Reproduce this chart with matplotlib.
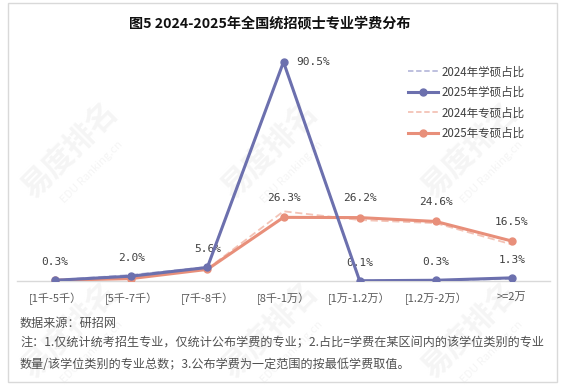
import matplotlib
matplotlib.use("Agg")
import matplotlib.pyplot as plt
from matplotlib.patches import Rectangle
from matplotlib.lines import Line2D

plt.rcParams['font.family'] = ['Noto Sans CJK SC', 'DejaVu Sans']

# -----------------------------
# data
# -----------------------------
categories = ["[1千-5千）", "[5千-7千）", "[7千-8千）", "[8千-1万）",
              "[1万-1.2万）", "[1.2万-2万）", ">=2万"]
xs_2024 = [0.4, 2.5, 5.8, 90.3, 0.1, 0.2, 0.9]      # 2024 学硕
xs_2025 = [0.3, 2.0, 5.6, 90.5, 0.1, 0.3, 1.3]      # 2025 学硕
zs_2024 = [0.4, 1.6, 5.0, 28.8, 25.2, 23.9, 15.1]   # 2024 专硕
zs_2025 = [0.3, 1.0, 4.8, 26.3, 26.2, 24.6, 16.5]   # 2025 专硕
xs_labeled = [0, 1, 2, 3, 4, 5, 6]
zs_labeled = [3, 4, 5, 6]

purple = "#6c70ae"
purple_light = "#b9bbdc"
salmon = "#e88f7a"
salmon_light = "#f3c3b6"
txt = "#404040"

W, H = 567, 389
fig = plt.figure(figsize=(W / 100, H / 100), dpi=100)

# outer frame
fig.patches.append(Rectangle((8 / W, 1 - 382 / H), 549 / W, 379 / H,
                             transform=fig.transFigure, fill=False,
                             edgecolor="#d9d9d9", linewidth=1.0))

# faint watermarks
for wx, wy in [(70, 330), (270, 330), (470, 330), (70, 150), (270, 150), (470, 150)]:
    fig.text(wx / W, 1 - wy / H, "易度排名", fontsize=22, fontweight="bold",
             color="#f5f5f5", rotation=45, ha="center", va="center", zorder=0)
    fig.text((wx + 22) / W, 1 - (wy + 22) / H, "EDU Ranking.cn", fontsize=8,
             color="#f5f5f5", rotation=45, ha="center", va="center", zorder=0)

fig.text(270 / W, 1 - 24 / H, "图5 2024-2025年全国统招硕士专业学费分布",
         fontsize=10.2, fontweight="bold", color="#111111", ha="center", va="center")

ax = fig.add_axes([17 / W, 1 - 281 / H, 533 / W, 242 / H])
ax.set_zorder(2)
ax.patch.set_alpha(0)
x = list(range(len(categories)))

ax.plot(x, xs_2024, color=purple_light, lw=1.3, ls=(0, (4, 2)), zorder=2)
ax.plot(x, zs_2024, color=salmon_light, lw=1.3, ls=(0, (4, 2)), zorder=2)
ax.plot(x, zs_2025, color=salmon, lw=2.2, marker="o", ms=5, zorder=3)
ax.plot(x, xs_2025, color=purple, lw=2.2, marker="o", ms=5, zorder=4)

lab_kw = dict(textcoords="offset points", fontsize=8, family="DejaVu Sans Mono",
              color=txt, va="center")
for i in xs_labeled:
    if i == 3:
        ax.annotate(f"{xs_2025[i]:.1f}%", (i, xs_2025[i]), xytext=(9, 0),
                    ha="left", **lab_kw)
    else:
        ax.annotate(f"{xs_2025[i]:.1f}%", (i, xs_2025[i]), xytext=(0, 13),
                    ha="center", **lab_kw)
for i in zs_labeled:
    ax.annotate(f"{zs_2025[i]:.1f}%", (i, zs_2025[i]), xytext=(0, 14),
                ha="center", **lab_kw)

ax.set_xlim(-0.5, 6.5)
ax.set_ylim(0, 100)
ax.set_xticks(x)
ax.set_xticklabels(categories, fontsize=8, color="#595959")
ax.tick_params(axis="x", length=0, pad=8)
ax.set_yticks([])
for s in ["top", "right", "left"]:
    ax.spines[s].set_visible(False)
ax.spines["bottom"].set_color("#d9d9d9")
ax.spines["bottom"].set_linewidth(1.0)

handles = [
    Line2D([], [], color=purple_light, lw=1.3, ls=(0, (3, 1.5))),
    Line2D([], [], color=purple, lw=2.2, marker="o", ms=5),
    Line2D([], [], color=salmon_light, lw=1.3, ls=(0, (3, 1.5))),
    Line2D([], [], color=salmon, lw=2.2, marker="o", ms=5),
]
labels = ["2024年学硕占比", "2025年学硕占比", "2024年专硕占比", "2025年专硕占比"]
fig.legend(handles, labels, loc="upper left", bbox_to_anchor=(398 / W, 1 - 55 / H),
           frameon=False, fontsize=8.3, handlelength=2.6, handletextpad=0.3,
           labelspacing=0.65, labelcolor=txt)

notes = ["数据来源：研招网",
         "注：1.仅统计统考招生专业，仅统计公布学费的专业；2.占比=学费在某区间内的该学位类别的专业",
         "数量/该学位类别的专业总数；3.公布学费为一定范围的按最低学费取值。"]
for ny, nt in zip([323, 343, 364], notes):
    fig.text(20 / W, 1 - ny / H, nt, fontsize=8.7, color="#505050",
             ha="left", va="center", style="italic")

fig.savefig("out.png", dpi=100)
